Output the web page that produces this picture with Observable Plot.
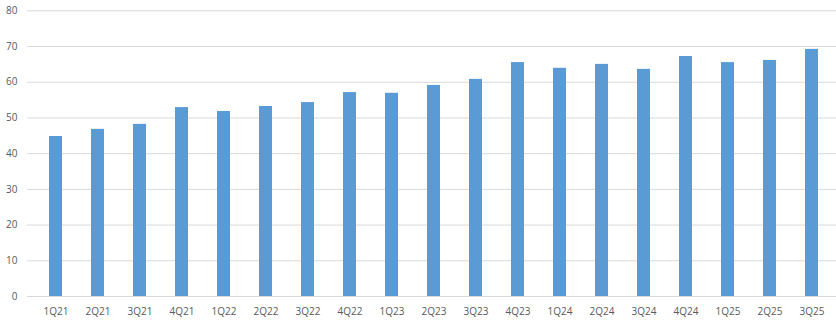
<!DOCTYPE html>
<html>
<head>
<meta charset="utf-8">
<script src="https://cdn.jsdelivr.net/npm/d3@7"></script>
<script src="https://cdn.jsdelivr.net/npm/@observablehq/plot@0.6"></script>
<style>
  html, body { margin: 0; padding: 0; background: #fff; }
  #chart svg { display: block; }
</style>
</head>
<body>
<div id="chart"></div>
<script>
const quarters = ["1Q21","2Q21","3Q21","4Q21","1Q22","2Q22","3Q22","4Q22","1Q23","2Q23","3Q23","4Q23","1Q24","2Q24","3Q24","4Q24","1Q25","2Q25","3Q25"];
const values = [44.8, 46.8, 48.2, 52.9, 51.8, 53.2, 54.3, 57.1, 56.9, 59.1, 60.8, 65.5, 63.9, 65.0, 63.6, 67.2, 65.5, 66.1, 69.2];
const yTicks = [0, 10, 20, 30, 40, 50, 60, 70, 80];

const data = quarters.map((q, i) => ({quarter: q, value: values[i]}));

const chart = Plot.plot({
  width: 836,
  height: 321,
  marginTop: 10,
  marginBottom: 25,
  marginLeft: 27,
  marginRight: 0,
  style: {fontFamily: "'Open Sans', sans-serif", fontSize: "10px", color: "#595959", background: "#fff"},
  x: {domain: quarters, range: [27, 840], paddingInner: 0.69, paddingOuter: 0.345, align: 0.5},
  y: {domain: [0, 80], range: [296, 10.3]},
  marks: [
    Plot.ruleY(yTicks, {stroke: "#d9d9d9", strokeWidth: 1}),
    Plot.barY(data, {x: "quarter", y: "value", fill: "#5b9bd5"}),
    Plot.axisY(yTicks, {tickSize: 0, tickPadding: 10, label: null, fill: "#595959"}),
    Plot.axisX({tickSize: 0, tickPadding: 11, label: null, fill: "#595959"})
  ]
});
document.getElementById("chart").appendChild(chart);
</script>
</body>
</html>
